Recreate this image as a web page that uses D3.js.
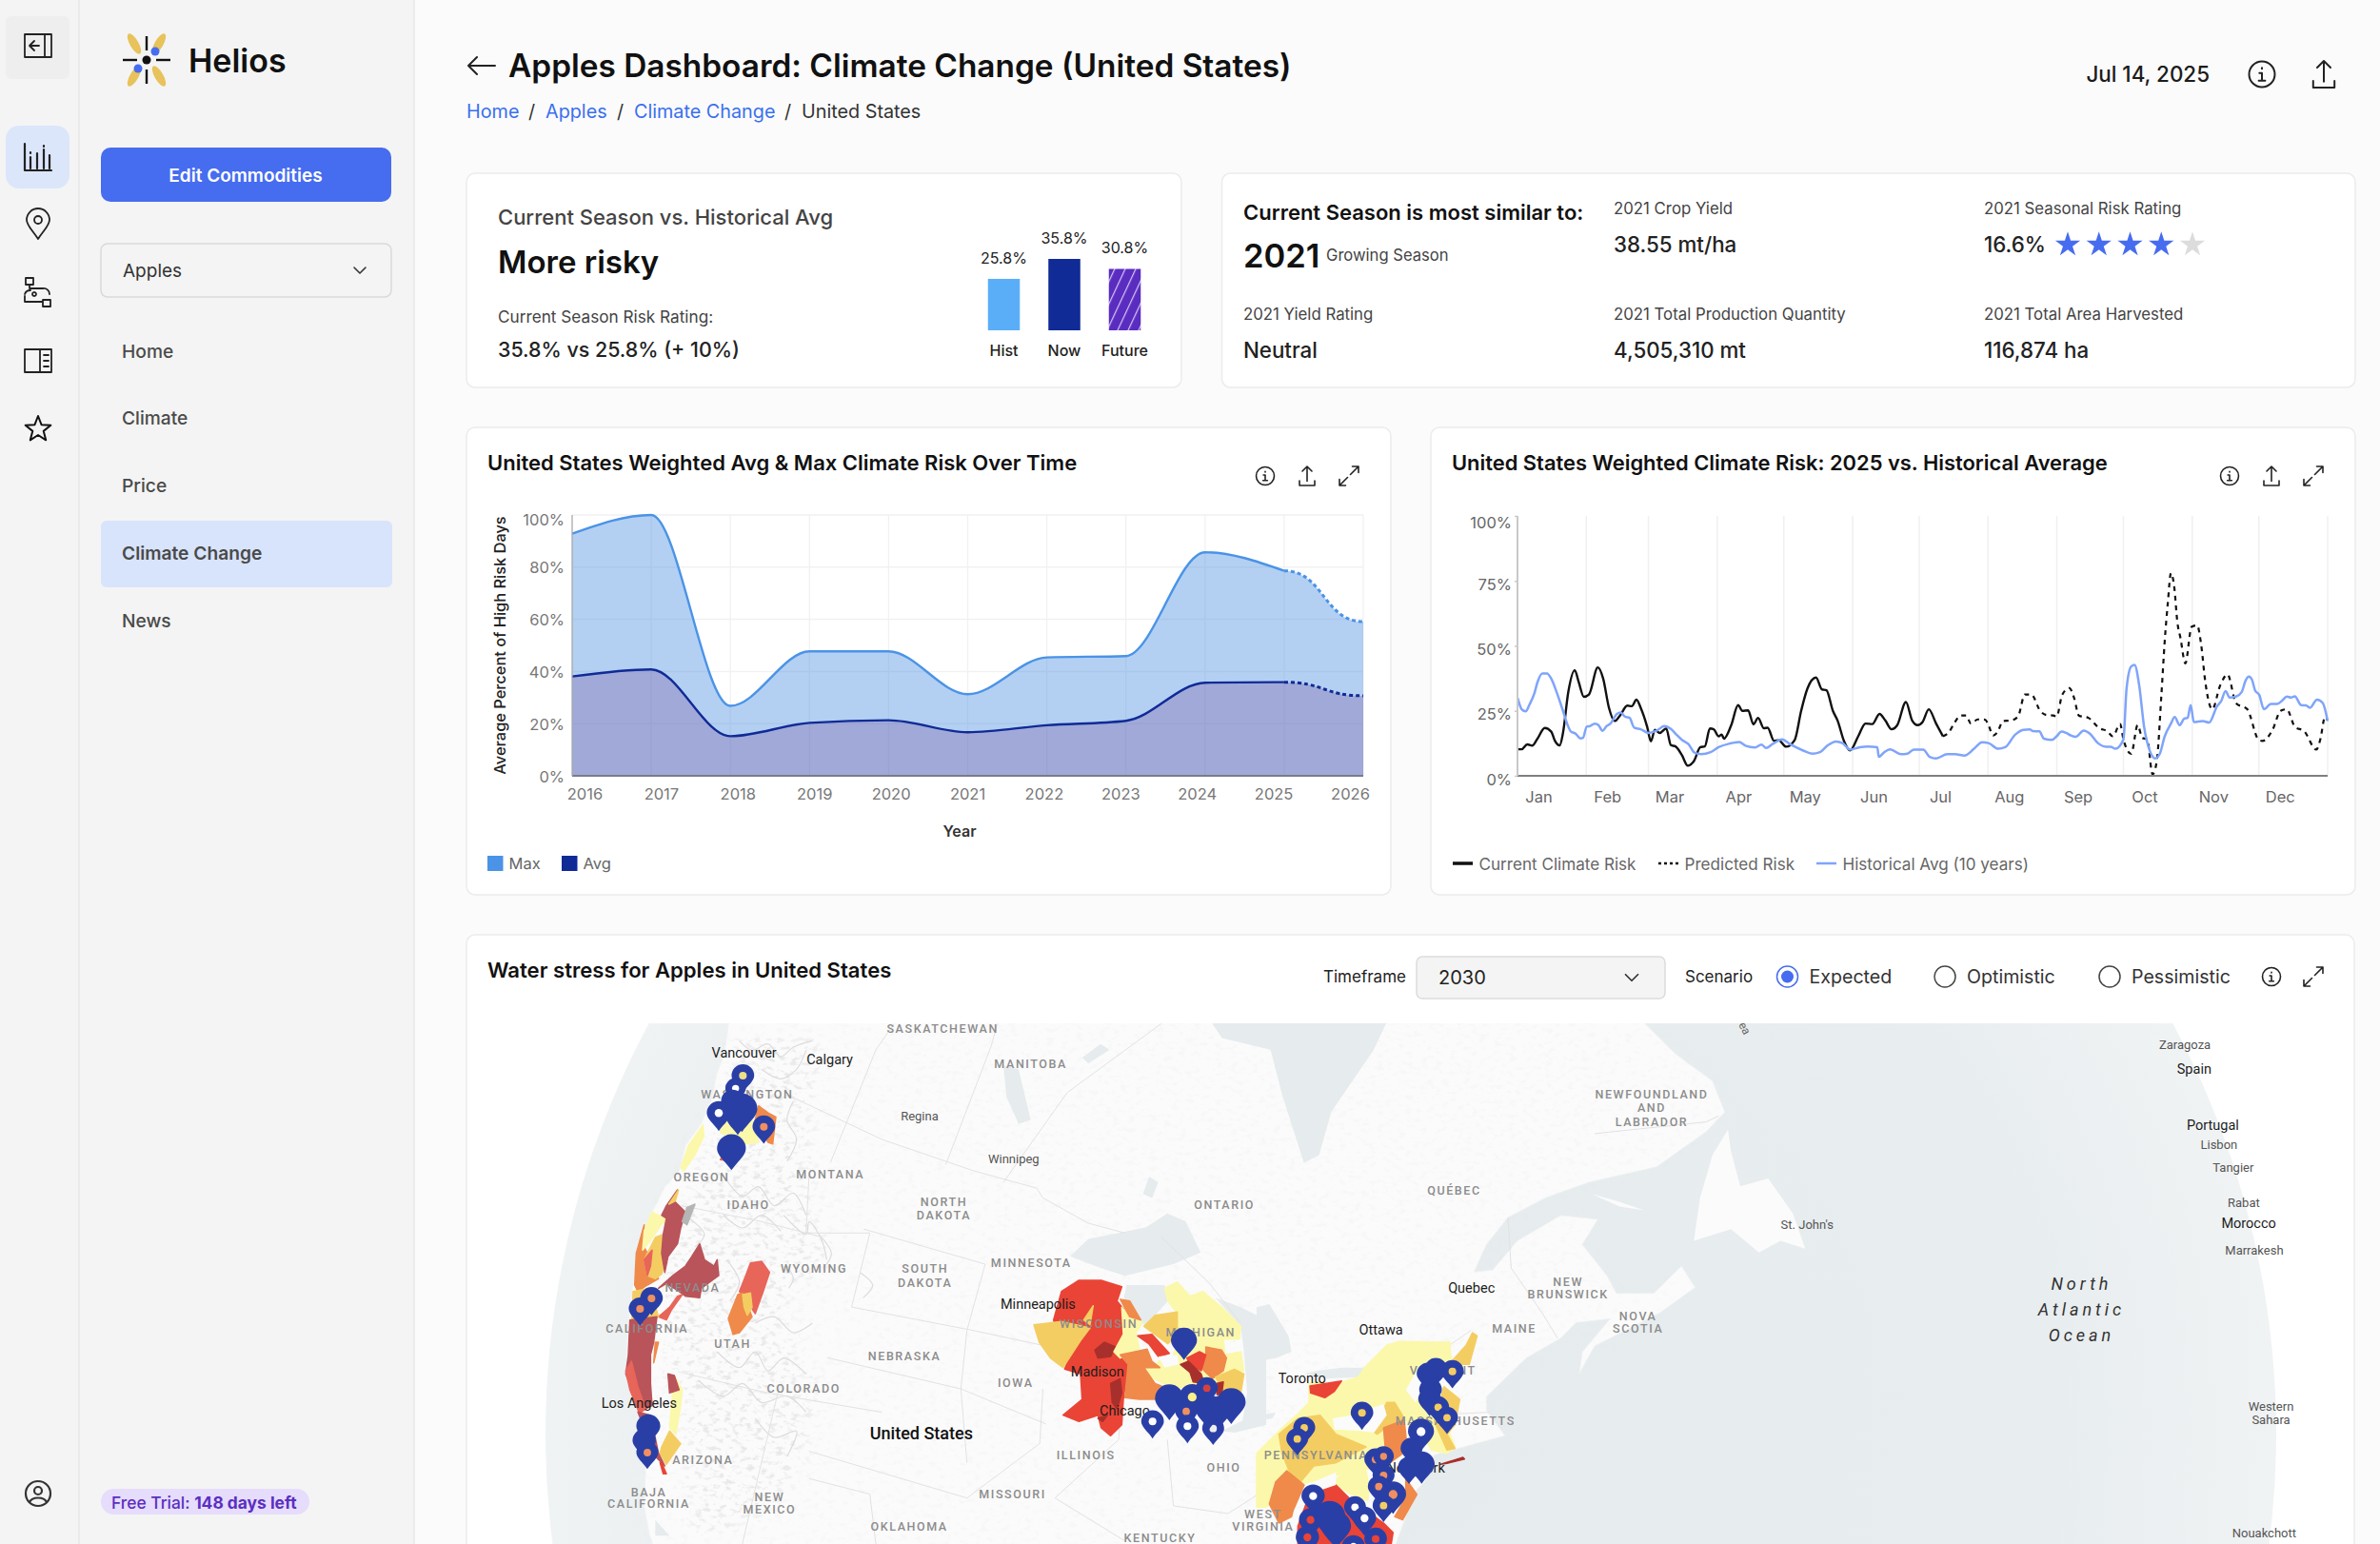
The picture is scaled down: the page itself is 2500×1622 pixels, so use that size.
<!DOCTYPE html>
<html>
<head>
<meta charset="utf-8">
<title>Helios - Apples Dashboard</title>
<script src="https://cdn.jsdelivr.net/npm/d3@7"></script>
<style>
  body { margin: 0; background: #fbfbfb; }
  svg { display: block; }
  text { font-family: Inter, "Noto Sans", sans-serif; dominant-baseline: central; }
  .map text { font-family: Roboto, sans-serif; }
</style>
</head>
<body>
<svg id="page" width="2500" height="1622"></svg>
<script>
// ---- chart values
const seasonLabels = ["Hist", "Now", "Future"];
const seasonRisk = [25.8, 35.8, 30.8];

const years = [2016, 2017, 2018, 2019, 2020, 2021, 2022, 2023, 2024, 2025, 2026];
const maxRisk = [92.8, 100, 26.8, 47.7, 47.7, 31.3, 45.4, 45.9, 85.7, 78.6, 59.1];
const avgRisk = [38.1, 40.8, 15.2, 20.3, 21.3, 16.7, 19.4, 21.1, 35.7, 35.9, 30.7];

const months = ["Jan", "Feb", "Mar", "Apr", "May", "Jun", "Jul", "Aug", "Sep", "Oct", "Nov", "Dec"];
const monthStarts = [0, 31, 59, 90, 120, 151, 181, 212, 243, 273, 304, 334, 365];

// [day of year, percent]
const currentRisk = [[0.1,10.2],[1.9,10.2],[4.4,12.1],[6.6,11.6],[9,14.3],[12.3,18.4],[15.2,17],[16.9,13.4],[19,11.7],[20.5,16.5],[22.9,32.3],[25.8,40.6],[27.6,36],[29.9,30.4],[32.2,31.3],[36.2,41.7],[38.6,37.4],[41.2,26.2],[43.8,21.1],[46.2,23.2],[49.5,27],[51.5,26.8],[53.6,29.3],[55.5,26.2],[58.4,18.9],[60.1,13.3],[61.9,17.7],[64.1,16.5],[67,18.2],[69.1,11.8],[71.2,11.3],[74.1,7.9],[76.7,3.9],[79.5,5.7],[82.4,11],[84.4,11.3],[86.7,18.2],[88.4,17.9],[90.6,15.2],[92,15.9],[93,14.3],[96.3,19.5],[99.4,27.2],[101.3,25],[103.9,25.2],[106.3,19.8],[108.4,22.3],[111,18.3],[112.7,18.5],[115.6,13.4],[117.7,13.7],[121,11.2],[124.9,13.8],[127.8,25],[130.6,33.5],[134.5,37.8],[137.1,33.3],[139.2,32.9],[142.1,25],[144.2,21.3],[147.1,13.4],[149.9,9.8],[153.5,15.2],[156.8,20.1],[159.9,19.9],[163.1,23.8],[165.7,21.3],[168.5,17.9],[171.1,19.5],[175,28.4],[177.8,21.3],[180.3,19.5],[182.5,20.7],[185.3,25.6],[188.6,20.1],[191.7,15.2]];
const predictedRisk = [[191.7,15.2],[194.3,16.7],[197.1,20.7],[199.7,23.2],[202.1,23.2],[204.3,20.1],[207.4,21.7],[210.7,21.6],[212.2,19.5],[214.3,15.5],[216,16.5],[218.9,21.1],[222.2,21.3],[225.5,22.8],[228.6,31.3],[231.5,31.3],[235.5,25],[237.9,23.5],[241.5,23.2],[242.9,22.8],[245.4,31.1],[248.6,33.8],[250.8,29.9],[252.9,23.2],[257.2,22.3],[262.2,18.3],[265.8,17.1],[268.2,15.2],[271.5,19.9],[273,14],[276.5,8.5],[279.4,19.5],[281.5,14.6],[283.7,14],[286.1,0.6],[288,5.5],[290.1,31.1],[291.6,51.8],[293,66.5],[294.4,78],[295.9,72.6],[297.3,59.1],[298.7,53],[300.9,43.3],[303.7,57.3],[306.2,57.9],[308,50.6],[309.9,36],[313,25.6],[316.6,34.8],[319.9,39],[323.7,28],[328.8,25.6],[333.8,14],[335.6,13.4],[340.2,17.7],[343.8,25],[346.6,25.6],[350.2,18.9],[354.5,17.1],[359.9,10.1],[361.7,14],[363.8,22.6],[365,21.3]];
const historicalAvg = [[0.1,29.9],[1.9,25.6],[3.7,24.8],[5.4,27.4],[7.6,31.7],[9,36],[11.2,39.4],[13.3,39.4],[15.2,37.4],[17.6,32.3],[20.5,25],[22.6,19.5],[24,17.1],[26.2,16.2],[28.3,14.4],[29.5,14.6],[31.2,18.9],[32.6,19.1],[34.8,20.1],[36.5,19.5],[38.3,17.3],[40.1,19.1],[41.9,20.1],[44.8,23.8],[46.5,24.4],[48.4,22.8],[50.5,22.3],[52.6,18.5],[55.5,17.9],[59.1,16.5],[62.7,17.4],[66.2,19.1],[69.1,18],[71.2,16.2],[74.1,13.8],[77,12.2],[79.8,8.9],[82.7,8.3],[87,9.1],[90.6,11],[95.6,12.4],[99.9,13],[102.7,11.6],[107,10.9],[109.9,12],[112,10.7],[114.9,12.2],[119.2,14],[122.7,12.2],[128.5,9.8],[132.8,8.5],[136.3,9.1],[139.9,11.8],[143.5,13.2],[146.4,12.6],[149.9,10.1],[154.2,11],[157.8,11.3],[162.1,11],[162.8,7.3],[165,8.9],[167.8,10.2],[172.8,8.3],[175.7,8.5],[178.5,10.1],[182.8,10.1],[185.7,7.3],[188.6,6.7],[193.6,8.3],[197.1,8.3],[201.4,7.8],[205.7,10.4],[209.3,12.9],[212.2,12.6],[216.5,10.4],[219.7,11],[224.3,15.9],[227.9,17.7],[230.8,17.9],[232.2,17.2],[235.1,17.1],[237.2,14.3],[240.8,13.8],[242.9,15.2],[245.1,17],[247.2,16.5],[249.4,15.5],[251.5,15],[255.1,17.4],[257.9,16.2],[261.5,12.6],[265.1,11.2],[267.2,11.2],[269.4,10.4],[273,14],[274.4,33.5],[276.5,42.1],[278,42.7],[280.1,34.8],[282.3,18.9],[285.1,9.1],[287.3,6.7],[289.4,8.5],[291.6,15.2],[294.4,20.1],[296.1,22.6],[298.3,19.5],[300.4,22],[301.9,22.3],[303.3,27.2],[304.7,20.7],[308.7,21.1],[311.6,20.5],[315.2,26.8],[317,28.7],[319,32.6],[320.9,30.1],[323.7,30.5],[326.3,32.3],[328,36.6],[329.5,38.2],[330.9,37],[332.3,32.9],[334.2,31.1],[336.3,25.6],[339.5,27.7],[342.3,27.7],[344.5,28.9],[346.6,30.5],[348.5,30.1],[350.2,30.6],[353.1,27.2],[355.2,27.1],[357.1,26.2],[360.2,29.3],[362.8,28],[365,21.1]];

// ---- text tiles
const navItems = ["Home", "Climate", "Price", "Climate Change", "News"];
const statRows = [
  ["2021 Crop Yield", "38.55 mt/ha", 1, 0],
  ["2021 Seasonal Risk Rating", "16.6%", 2, 0],
  ["2021 Yield Rating", "Neutral", 0, 1],
  ["2021 Total Production Quantity", "4,505,310 mt", 1, 1],
  ["2021 Total Area Harvested", "116,874 ha", 2, 1]
];
const ratingStars = [1, 1, 1, 1, 0];

// ---- map: no geodata is available, so shapes are traced in the units of five sheets of the map
const sheets = {
  wide: { x: d3.scaleLinear([0, 1568], [480, 1480]), y: d3.scaleLinear([0, 1568], [980, 1622]) },
  atl:  { x: d3.scaleLinear([0, 1568], [1480, 2500]), y: d3.scaleLinear([0, 1568], [980, 1622]) },
  west: { x: d3.scaleLinear([0, 1020], [620, 960]), y: d3.scaleLinear([0, 1560], [1090, 1610]) },
  mid:  { x: d3.scaleLinear([0, 780], [1070, 1330]), y: d3.scaleLinear([0, 876], [1330, 1622]) },
  east: { x: d3.scaleLinear([0, 780], [1320, 1580]), y: d3.scaleLinear([0, 876], [1330, 1622]) }
};
const coastParts = [
  ["wide", [[450,200]]],
  ["atl", [[360,200],[430,310],[490,380],[510,460],[480,510],[400,600],[290,640],[220,680],[160,730],[125,800],[105,870],[135,865],[175,790],[245,725],[305,735],[280,800],[320,880],[335,925],[395,925],[440,855],[462,910],[405,975],[300,1060],[275,1130],[280,1075],[325,990],[270,1000],[245,1040],[190,1090],[125,1190],[125,1225],[155,1290],[75,1325],[40,1340]]],
  ["east", [[530,680],[490,720],[470,790],[430,900]]],
  ["west", [[210,1640],[185,1560],[170,1480],[175,1330],[160,1250],[155,1190],[130,1120],[112,1060],[115,950],[125,850],[135,770],[150,680],[170,600],[200,540],[235,470],[280,420],[300,340],[350,270],[380,200],[400,110],[420,60],[430,0]]]
];
const islands = [
  ["atl", [[515,505],[490,570],[470,680],[460,790],[520,760],[565,820],[600,790],[640,810],[620,720],[580,630],[535,650],[520,560]]],
  ["atl", [[295,670],[340,690],[380,712],[340,702]]]
];
const lakes = [
  ["wide", [[1230,200],[1260,270],[1340,300],[1360,420],[1395,590],[1420,570],[1440,460],[1510,300],[1540,200]]],
  ["wide", [[1010,830],[1040,785],[1090,770],[1135,755],[1170,720],[1200,740],[1225,820],[1180,850],[1100,880],[1060,860]]],
  ["wide", [[900,340],[925,350],[945,480],[925,490],[905,420]]],
  ["wide", [[1140,625],[1155,640],[1145,680],[1130,670]]],
  ["wide", [[1030,320],[1060,285],[1075,300],[1040,335]]],
  ["mid", [[340,60],[460,60],[470,110],[400,190],[330,110]]],
  ["mid", [[620,100],[700,130],[780,170],[780,500],[700,520],[720,400],[710,270],[700,190]]],
  ["mid", [[640,520],[700,490],[780,460],[780,500],[680,525]]],
  ["east", [[0,130],[40,120],[100,220],[110,270],[60,290],[0,300]]],
  ["east", [[0,470],[60,462],[50,480],[0,490]]],
  ["east", [[150,340],[220,355],[320,350],[340,320],[270,320],[190,330]]],
  ["west", [[205,1520],[250,1570],[205,1570]]]
];
const borders = [
  ["wide", [[550,420],[700,530],[850,610],[955,655],[965,680],[1040,745],[1100,770]]],
  ["wide", [[720,233],[690,300],[615,590]]],
  ["wide", [[890,233],[880,290],[805,595]]],
  ["wide", [[1160,233],[1005,410],[900,640]]],
  ["wide", [[670,760],[870,850]]],
  ["wide", [[650,960],[850,1020]]],
  ["wide", [[850,1020],[1000,1070]]],
  ["wide", [[610,1090],[830,1170],[970,1260]]],
  ["wide", [[580,1330],[840,1450],[960,1310],[965,1170]]],
  ["wide", [[870,850],[840,1020],[830,1170],[840,1360]]],
  ["wide", [[580,620],[575,770],[680,770],[650,960]]],
  ["wide", [[370,700],[500,740],[600,780]]],
  ["wide", [[690,1568],[680,1440],[580,1400]]],
  ["wide", [[1100,1000],[1090,1300],[985,1450],[1100,1560]]],
  ["wide", [[1170,1300],[1180,1470],[1270,1490],[1340,1420]]],
  ["wide", [[375,1130],[510,1180],[700,1230]]],
  ["wide", [[530,1170],[470,1568]]],
  ["wide", [[1160,780],[1240,900],[1290,1000]]],
  ["atl", [[300,515],[480,485],[500,470]]],
  ["atl", [[160,730],[165,860],[215,975],[240,1040]]],
  ["atl", [[0,1130],[100,1020]]],
  ["atl", [[0,1240],[130,1230]]]
];
const rockies = [[470,0],[720,0],[700,150],[680,400],[720,600],[760,720],[620,800],[620,950],[720,1100],[680,1300],[600,1450],[420,1560],[330,1560],[300,1100],[230,1100],[230,700],[330,450],[430,250]];
const terrain = [
  [[470,10],[510,40],[560,20],[600,60],[640,30],[700,10]], [[540,100],[600,130],[650,100],[680,40]], [[640,200],[620,260],[650,320],[620,390]],
  [[430,450],[480,500],[530,470],[580,530],[640,490],[680,560]], [[610,560],[680,620],[690,580],[730,640],[745,700]], [[620,720],[640,760],[625,790]],
  [[400,990],[470,1040],[520,990],[560,1050],[610,1010],[680,1060]], [[340,1080],[420,1130],[480,1090],[540,1150],[620,1130],[680,1180]],
  [[520,1200],[580,1260],[650,1240],[620,1320]], [[430,700],[470,770],[440,830]], [[520,900],[580,880],[640,930],[700,900]], [[300,560],[360,620],[330,660]],
  [[720,620],[760,680],[740,720]], [[850,740],[890,780],[860,820]], [[420,560],[480,600],[540,560],[600,610]]
];

const stressColors = { high: "#ea4436", dark: "#a8302c", brown: "#b9545a", salmon: "#e8655a", orange: "#ef8a4b", amber: "#f4cd62", pale: "#fbf8ab", grey: "#b5b5b5" };
const stressAreas = [
  ["west", "pale", [[355,275],[358,310],[330,370],[295,420],[285,410],[310,340]]],
  ["west", "pale", [[410,270],[440,250],[510,260],[530,330],[490,335],[470,320],[410,300]]],
  ["west", "orange", [[530,215],[565,240],[585,250],[575,335],[560,330],[520,260]]],
  ["west", "salmon", [[410,385],[420,365],[470,325],[485,335],[450,390]]],
  ["west", "orange", [[170,590],[145,680],[140,780],[150,800],[180,780],[215,760],[190,700],[165,650]]],
  ["west", "pale", [[195,550],[170,610],[165,670],[190,640],[230,580],[240,600],[235,570]]],
  ["west", "amber", [[205,630],[230,620],[240,700],[225,745],[205,760],[180,750],[170,700],[190,660]]],
  ["west", "salmon", [[170,700],[195,670],[190,720],[180,750]]],
  ["west", "brown", [[240,530],[275,480],[265,515],[300,550],[285,600],[275,650],[245,690],[235,740],[225,680],[230,620],[240,570],[225,560]]],
  ["west", "amber", [[248,525],[278,480],[268,515]]],
  ["west", "grey", [[330,525],[305,590],[290,580],[305,535]]],
  ["west", "brown", [[215,790],[260,750],[300,720],[320,690],[345,650],[360,700],[390,720],[400,700],[405,750],[350,790],[345,820],[300,815],[280,800],[240,775]]],
  ["west", "salmon", [[290,810],[255,860],[240,890],[215,880],[250,850],[275,815]]],
  ["west", "salmon", [[505,710],[540,705],[565,740],[545,800],[520,870],[480,810],[470,800],[490,750]]],
  ["west", "orange", [[465,810],[480,805],[510,880],[470,930],[450,935],[435,885]]],
  ["west", "amber", [[480,810],[505,805],[510,850],[495,875],[485,850]]],
  ["west", "amber", [[135,800],[190,790],[215,880],[130,930]]],
  ["west", "brown", [[125,890],[210,880],[200,960],[190,1000],[190,1090],[195,1160],[155,1180],[130,1110],[112,1060],[120,1000]]],
  ["west", "salmon", [[112,1050],[130,1020],[150,1100],[175,1170],[155,1185],[125,1110]]],
  ["west", "orange", [[215,960],[200,1025],[205,960]]],
  ["west", "pale", [[265,1065],[290,1110],[285,1160],[270,1250],[250,1230],[255,1170]]],
  ["west", "brown", [[245,1060],[265,1065],[280,1110],[250,1120]]],
  ["west", "amber", [[250,1240],[285,1280],[240,1345],[220,1310],[225,1290]]],
  ["west", "brown", [[150,1180],[190,1190],[215,1310],[235,1350],[205,1320]]],
  ["west", "high", [[225,1340],[240,1375],[230,1375],[220,1340]]],

  ["mid", "high", [[110,170],[135,80],[190,45],[260,45],[325,65],[310,110],[350,160],[330,215],[300,270],[345,310],[330,420],[325,500],[290,535],[260,510],[250,470],[190,490],[140,470],[200,420],[195,340],[145,325],[175,250],[120,200]]],
  ["mid", "amber", [[48,185],[135,175],[225,195],[195,235],[140,320],[100,290],[65,240]]],
  ["mid", "amber", [[205,170],[235,125],[225,185]]],
  ["mid", "dark", [[240,265],[270,240],[305,255],[290,285],[250,290]]],
  ["mid", "dark", [[290,370],[320,355],[325,400],[310,450],[295,430]]],
  ["mid", "dark", [[250,480],[280,470],[265,490]]],
  ["mid", "pale", [[325,130],[350,160],[390,180],[370,210],[380,260],[320,290],[300,270],[330,215]]],
  ["mid", "orange", [[320,105],[350,110],[385,170],[350,160]]],
  ["mid", "pale", [[460,70],[500,50],[540,95],[580,80],[640,130],[670,160],[700,190],[695,230],[645,230],[650,280],[700,270],[710,330],[650,330],[620,370],[560,380],[480,385],[420,350],[395,320],[430,320],[440,300],[480,300],[500,245],[470,240],[500,210],[500,150],[470,110]]],
  ["mid", "orange", [[320,280],[405,262],[420,300],[445,320],[395,320],[430,370],[480,390],[440,420],[380,420],[335,415],[345,310]]],
  ["mid", "high", [[375,220],[420,215],[475,275],[440,285],[410,245]]],
  ["mid", "amber", [[395,190],[430,155],[500,145],[500,210],[470,245]]],
  ["mid", "orange", [[590,255],[640,265],[655,290],[645,330],[610,355],[575,320],[590,285]]],
  ["mid", "high", [[530,290],[570,270],[590,280],[575,330],[540,310]]],
  ["mid", "dark", [[510,310],[535,300],[575,340],[585,370],[550,365],[540,335]]],
  ["mid", "amber", [[620,350],[680,325],[710,340],[700,400],[650,400]]],
  ["mid", "dark", [[625,370],[645,365],[640,405],[625,405]]],

  ["east", "pale", [[0,590],[60,530],[125,470],[165,430],[165,370],[215,365],[225,380],[320,350],[340,320],[410,250],[450,238],[610,240],[610,270],[615,300],[580,340],[560,370],[580,420],[590,480],[625,570],[600,590],[550,580],[540,560],[500,560],[470,480],[400,640],[345,640],[250,660],[130,690],[30,760],[0,760]]],
  ["east", "pale", [[250,670],[340,620],[355,700],[350,740],[300,720],[250,690]]],
  ["east", "high", [[168,378],[268,362],[245,395],[215,415],[170,400]]],
  ["east", "amber", [[70,530],[130,480],[200,470],[250,530],[345,570],[250,620],[180,630],[130,690],[100,640],[80,590]]],
  ["east", "amber", [[410,430],[435,430],[465,480],[400,515],[380,530],[365,520]]],
  ["east", "orange", [[400,510],[465,485],[475,580],[420,620],[405,570]]],
  ["east", "orange", [[40,750],[60,680],[95,645],[150,690],[115,770],[110,790],[70,810]]],
  ["east", "amber", [[680,210],[695,220],[670,310],[620,310],[615,300],[660,250]]],
  ["east", "amber", [[590,380],[640,420],[625,500],[600,530],[625,575],[600,580],[560,490]]],
  ["east", "orange", [[470,670],[505,720],[460,800],[435,790],[470,730]]],
  ["east", "high", [[170,710],[240,680],[290,730],[400,810],[430,840],[420,900],[130,900],[130,820]]],
  ["east", "dark", [[580,625],[650,603],[655,608],[600,622]]]
];
// land that shows through the stress layers
const stressHoles = [
  ["mid", [[440,285],[500,280],[505,310],[460,320]]],
  ["east", [[240,480],[300,470],[400,435],[410,470],[370,525],[330,520],[245,515]]],
  ["east", [[470,390],[510,320],[530,380],[500,430]]],
  ["east", [[180,680],[250,650],[250,690],[190,710]]]
];

// [sheet, centre x, centre y, radius, hole colour]
const farmPins = [
  ["west",481,120,33,"#eede88"],["west",458,160,30,"#fff"],["west",448,200,33,null],["west",405,238,35,"#fff"],["west",478,225,45,null],["west",465,255,32,null],["west",547,281,33,"#f09060"],["west",445,350,42,null],
  ["west",193,822,33,"#f09060"],["west",157,855,33,"#f09060"],["west",183,1225,35,null],["west",170,1270,34,null],["west",180,1308,32,"#f09060"],
  ["mid",521,235,38,null],["mid",422,490,33,"#fff"],["mid",475,418,42,null],["mid",547,413,38,"#fbf08a"],["mid",593,385,32,"#d84040"],["mid",528,458,32,"#f09060"],["mid",532,505,33,"#fff"],["mid",613,512,32,"#eee"],["mid",600,450,40,null],["mid",640,445,35,null],["mid",670,430,42,null],
  ["east",150,510,32,"#f4cd62"],["east",128,545,32,"#f4cd62"],["east",332,463,33,"#f4cd62"],["east",565,325,33,null],["east",540,340,33,null],["east",548,390,33,null],["east",545,420,33,null],["east",572,445,32,"#f4cd62"],["east",600,478,32,"#f4cd62"],["east",617,332,33,"#f4cd62"],
  ["east",518,522,38,"#fff"],["east",488,575,32,null],["east",480,635,32,null],["east",520,625,38,null],["east",375,610,33,"#f09060"],["east",400,600,30,"#f09060"],["east",400,660,32,"#f09060"],["east",385,695,32,"#f09060"],["east",430,720,38,"#f09060"],["east",400,755,32,"#f4cd62"],
  ["east",178,725,34,"#fff"],["east",170,800,34,"#ea4436"],["east",230,790,46,null],["east",310,760,32,"#fff"],["east",340,795,34,"#fff"],["east",160,855,34,"#ea4436"],["east",375,860,33,"#ea4436"],["east",305,885,34,"#fff"],["east",250,820,44,null]
];

// [sheet, text, x, y, kind] kinds: region, city, small, country
const mapLabels = [
  ["wide","SASKATCHEWAN",800,245,"region"],["wide","MANITOBA",945,337,"region"],["wide","Regina",762,469,"small"],["wide","Winnipeg",917,579,"small"],["wide","ONTARIO",1264,697,"region"],
  ["wide","NORTH",802,689,"region"],["wide","DAKOTA",802,723,"region"],["wide","SOUTH",771,862,"region"],["wide","DAKOTA",771,898,"region"],["wide","MINNESOTA",946,847,"region"],
  ["wide","WYOMING",588,861,"region"],["wide","MONTANA",615,620,"region"],["wide","IDAHO",480,697,"region"],["wide","OREGON",403,626,"region"],["wide","WASHINGTON",478,413,"region"],
  ["wide","NEVADA",388,910,"region"],["wide","CALIFORNIA",313,1015,"region"],["wide","UTAH",454,1053,"region"],["wide","COLORADO",571,1169,"region"],["wide","NEBRASKA",737,1085,"region"],["wide","IOWA",920,1154,"region"],
  ["wide","WISCONSIN",1057,1003,"region"],["wide","MICHIGAN",1225,1025,"region"],["wide","ARIZONA",405,1353,"region"],["wide","BAJA",316,1435,"region"],["wide","CALIFORNIA",316,1464,"region"],
  ["wide","NEW",515,1447,"region"],["wide","MEXICO",515,1480,"region"],["wide","OKLAHOMA",745,1523,"region"],["wide","MISSOURI",915,1440,"region"],["wide","ILLINOIS",1036,1339,"region"],["wide","OHIO",1263,1371,"region"],["wide","KENTUCKY",1158,1552,"region"],
  ["wide","WEST",1328,1491,"region"],["wide","VIRGINIA",1328,1522,"region"],["wide","PENNSYLVANIA",1415,1340,"region"],
  ["atl","NEWFOUNDLAND",392,413,"region"],["atl","AND",392,449,"region"],["atl","LABRADOR",392,485,"region"],["atl","QUÉBEC",73,660,"region"],["atl","NEW",257,896,"region"],["atl","BRUNSWICK",257,928,"region"],
  ["atl","NOVA",370,984,"region"],["atl","SCOTIA",370,1016,"region"],["atl","MAINE",170,1014,"region"],["atl","MASSACHUSETTS",75,1251,"region"],["atl","VERMONT",55,1122,"region"],
  ["wide","Vancouver",473,309,"city"],["wide","Calgary",614,327,"city"],["wide","Minneapolis",957,953,"city"],["wide","Madison",1055,1126,"city"],["wide","Chicago",1100,1228,"city"],["wide","Los Angeles",300,1208,"city"],
  ["wide","United States",765,1283,"country"],["wide","Toronto",1392,1145,"city"],["wide","Ottawa",1522,1019,"city"],["atl","Quebec",101,913,"city"],["atl","New York",11,1375,"city"],
  ["atl","Zaragoza",1253,287,"small"],["atl","Spain",1268,350,"city"],["atl","Portugal",1298,495,"city"],["atl","Lisbon",1308,543,"small"],["atl","Tangier",1331,603,"small"],["atl","Rabat",1348,693,"small"],["atl","Morocco",1356,745,"city"],["atl","Marrakesh",1365,815,"small"],
  ["atl","St. John's",643,748,"small"],["atl","Western",1392,1214,"small"],["atl","Sahara",1392,1250,"small"],["atl","Nouakchott",1381,1540,"small"]
];
const oceanLabels = [["North", 900], ["Atlantic", 965], ["Ocean", 1031]];

const svg = d3.select("#page");
const defs = svg.append("defs");

function label(parent, str, x, y, opt = {}) {
  return parent.append("text").attr("x", x).attr("y", y).text(str)
    .attr("font-size", opt.size || 17)
    .attr("font-weight", opt.weight || 400)
    .attr("fill", opt.fill || "#1c1c1c")
    .attr("text-anchor", opt.anchor || "start")
    .attr("letter-spacing", opt.spacing || null);
}
function card(x, y, w, h) {
  svg.append("rect").attr("x", x).attr("y", y).attr("width", w).attr("height", h).attr("rx", 9)
    .attr("fill", "#fff").attr("stroke", "#ececec").attr("stroke-width", 1.5);
}
function strokeIcon(cx, cy, d, color = "#222", width = 1.8) {
  return svg.append("path").attr("transform", `translate(${cx},${cy})`).attr("d", d)
    .attr("fill", "none").attr("stroke", color).attr("stroke-width", width)
    .attr("stroke-linecap", "round").attr("stroke-linejoin", "round");
}
const infoPath = r => `M${r},0A${r},${r} 0 1 1 ${-r},0A${r},${r} 0 1 1 ${r},0M-${r*.25},${r*.5}H${r*.25}M0,${r*.5}V-${r*.1}H-${r*.2}M0,-${r*.5}V-${r*.42}`;
const uploadPath = s => `M-${s*.8},${s*.5}V${s}H${s*.8}V${s*.5}M0,${s*.55}V-${s}M-${s*.5},-${s*.5}L0,-${s}L${s*.5},-${s*.5}`;
const expandPath = s => `M${s*.15},-${s*.15}L${s},-${s}M${s*.35},-${s}H${s}V-${s*.35}M-${s*.15},${s*.15}L-${s},${s}M-${s*.35},${s}H-${s}V${s*.35}`;
const chevronPath = s => `M-${s},-${s*.5}L0,${s*.5}L${s},-${s*.5}`;

// ---- rails
svg.append("rect").attr("width", 435).attr("height", 1622).attr("fill", "#f4f4f4");
[83, 435].forEach(x => svg.append("line").attr("x1", x).attr("x2", x).attr("y1", 0).attr("y2", 1622).attr("stroke", "#e8e8e8").attr("stroke-width", 1.5));
svg.append("rect").attr("x", 6).attr("y", 17).attr("width", 67).attr("height", 66).attr("rx", 6).attr("fill", "#eeeeee");
svg.append("rect").attr("x", 6).attr("y", 132).attr("width", 67).attr("height", 66).attr("rx", 14).attr("fill", "#dbe6fb");
strokeIcon(40, 48, "M-14,-12H14V12H-14ZM7,-12V12M1,0H-9M-4,-5L-9,0L-4,5");
strokeIcon(40, 165, "M-14,-14V14H14M-8,12V0M-1,12V-4M6,12V-8M12,12V-2M-8,-5V-4M6,-12V-11", "#222", 2.2);
strokeIcon(40, 236, "M0,15C-5,7 -12,1 -12,-5A12,12 0 0 1 12,-5C12,1 5,7 0,15ZM4,-5A4,4 0 1 1 -4,-5A4,4 0 1 1 4,-5");
strokeIcon(40, 307, "M-13,-15H-5V-8H-13ZM5,8H13V15H5ZM-9,-8V-4H5A6,6 0 0 1 12,2M-14,2A6,6 0 0 1 -8,-2M-14,4V10H4M-2,2A2,2 0 1 1 -2,1.9");
strokeIcon(40, 379, "M-14,-12H14V12H-14ZM2,-12V12M6,-6H11M6,0H11M6,6H11");
strokeIcon(40, 451, d3.range(10).map(i => {
  const r = i % 2 ? 6 : 14, a = -Math.PI / 2 + i * Math.PI / 5;
  return `${i ? "L" : "M"}${r * Math.cos(a)},${r * Math.sin(a)}`;
}).join("") + "Z", "#111", 2);
strokeIcon(40, 1569, "M13,0A13,13 0 1 1 -13,0A13,13 0 1 1 13,0M4,-3A4,4 0 1 1 -4,-3A4,4 0 1 1 4,-3M-9,9C-6,3 6,3 9,9", "#333", 2.2);

// logo
const logo = svg.append("g").attr("transform", "translate(154,63)");
[[-1, -1], [1, -1], [-1, 1], [1, 1]].forEach(([sx, sy]) => {
  logo.append("ellipse").attr("cx", sx * 13).attr("cy", sy * 17).attr("rx", 4.5).attr("ry", 12)
    .attr("transform", `rotate(${sx * sy * -30} ${sx * 13} ${sy * 17})`).attr("fill", "#e8c25a");
});
logo.append("circle").attr("cx", 9).attr("cy", -9).attr("r", 4.5).attr("fill", "#466cf0");
logo.append("circle").attr("cx", -9).attr("cy", 9).attr("r", 4.5).attr("fill", "#466cf0");
logo.append("circle").attr("r", 4.5).attr("fill", "#111");
["M0,-25V-10", "M0,10V25", "M-25,0H-10", "M10,0H25"].forEach(d => logo.append("path").attr("d", d).attr("stroke", "#111").attr("stroke-width", 2.4));
label(svg, "Helios", 198, 63, { size: 34, weight: 600, fill: "#111" });

svg.append("rect").attr("x", 106).attr("y", 155).attr("width", 305).attr("height", 57).attr("rx", 10).attr("fill", "#466cf0");
label(svg, "Edit Commodities", 258, 184, { size: 19, weight: 600, fill: "#fff", anchor: "middle" });
svg.append("rect").attr("x", 106).attr("y", 256).attr("width", 305).attr("height", 56).attr("rx", 7).attr("fill", "#f4f4f4").attr("stroke", "#d9d9d9").attr("stroke-width", 1.5);
label(svg, "Apples", 129, 284, { size: 19, fill: "#333" });
strokeIcon(378, 284, chevronPath(6), "#333", 1.6);
svg.append("rect").attr("x", 106).attr("y", 547).attr("width", 306).attr("height", 70).attr("rx", 6).attr("fill", "#d8e4fb");
const navY = d3.scalePoint(navItems, [368.5, 652]);
navItems.forEach(item => label(svg, item, 128, navY(item), { size: 19.2, weight: item === "Climate Change" ? 600 : 500, fill: "#4a4a4a" }));
svg.append("rect").attr("x", 106).attr("y", 1564).attr("width", 219).attr("height", 27).attr("rx", 13.5).attr("fill", "#e6dcfb");
const trial = label(svg, "Free Trial: ", 117, 1578, { size: 17.4, weight: 500, fill: "#5a2fc2" });
trial.append("tspan").attr("font-weight", 700).text("148 days left");

// ---- page header
strokeIcon(506, 69, "M14,0H-14M-5,-9L-14,0L-5,9", "#222", 2);
label(svg, "Apples Dashboard: Climate Change (United States)", 534, 69, { size: 33.4, weight: 600, fill: "#111" });
[["Home", 490, "#3a6ff0"], ["/", 555, "#333"], ["Apples", 573, "#3a6ff0"], ["/", 648, "#333"], ["Climate Change", 666, "#3a6ff0"], ["/", 824, "#333"], ["United States", 842, "#333"]]
  .forEach(([t, x, c]) => label(svg, t, x, 117, { size: 19.8, fill: c }));
label(svg, "Jul 14, 2025", 2321, 77, { size: 22.4, anchor: "end", weight: 500 });
strokeIcon(2376, 78, infoPath(13.5), "#222", 2);
strokeIcon(2441, 78, uploadPath(14), "#222", 2);

// ---- season card
card(490, 182, 751, 225);
label(svg, "Current Season vs. Historical Avg", 523, 228, { size: 22, weight: 500, fill: "#444" });
label(svg, "More risky", 523, 275, { size: 33, weight: 600, fill: "#111" });
label(svg, "Current Season Risk Rating:", 523, 332, { size: 17.2, fill: "#444" });
label(svg, "35.8% vs 25.8% (+ 10%)", 523, 367, { size: 21.4, weight: 500, fill: "#222" });

defs.append("pattern").attr("id", "futureHatch").attr("width", 10).attr("height", 12)
  .attr("patternUnits", "userSpaceOnUse").attr("patternTransform", "rotate(25)")
  .call(p => {
    p.append("rect").attr("width", 10).attr("height", 12).attr("fill", "#5a2cc0");
    p.append("rect").attr("width", 1.2).attr("height", 12).attr("fill", "#d5c7f3");
  });
const seasonY = d3.scaleLinear([0, 35.8], [347, 272]);
const seasonFill = { Hist: "#5aaef8", Now: "#102a96", Future: "url(#futureHatch)" };
const seasonCenters = d3.scalePoint(seasonLabels, [1054.5, 1181.5]);
seasonLabels.forEach((name, i) => {
  const w = 33.5, cx = seasonCenters(name);
  svg.append("rect").attr("x", cx - w / 2).attr("width", w).attr("y", seasonY(seasonRisk[i]))
    .attr("height", seasonY(0) - seasonY(seasonRisk[i])).attr("fill", seasonFill[name]);
  label(svg, seasonRisk[i] + "%", cx, seasonY(seasonRisk[i]) - 22, { size: 16, anchor: "middle", fill: "#222" });
  label(svg, name, cx, 368, { size: 16, weight: 500, anchor: "middle", fill: "#222" });
});

// ---- similar season card
card(1283.5, 182, 1190.5, 225);
label(svg, "Current Season is most similar to:", 1306, 223, { size: 22, weight: 600, fill: "#111" });
label(svg, "2021", 1306, 268, { size: 34.5, weight: 600, fill: "#111" });
label(svg, "Growing Season", 1393, 268, { size: 16.6, fill: "#444" });
const statX = [1306, 1695, 2084], statY = [219, 330], statGap = 37.5;
statRows.forEach(([name, value, col, row]) => {
  label(svg, name, statX[col], statY[row], { size: 16.8, fill: "#444" });
  label(svg, value, statX[col], statY[row] + statGap, { size: 22.3, weight: 500, fill: "#222" });
});
const starX = d3.scalePoint(d3.range(ratingStars.length), [2172, 2303]);
ratingStars.forEach((on, i) => svg.append("path").attr("d", d3.symbol(d3.symbolStar, 215))
  .attr("transform", `translate(${starX(i)},257)`).attr("fill", on ? "#466cf0" : "#dcdcdc"));

function chartIcons(x0, y) {
  strokeIcon(x0, y, infoPath(9.5), "#222", 1.6);
  strokeIcon(x0 + 44, y, uploadPath(10), "#222", 1.6);
  strokeIcon(x0 + 88, y, expandPath(10), "#222", 1.6);
}

// ---- avg & max over time
card(490, 449, 971, 491);
label(svg, "United States Weighted Avg & Max Climate Risk Over Time", 512, 486, { size: 22, weight: 600, fill: "#111" });
chartIcons(1329, 500);

const areaX = d3.scalePoint(years, [601, 1432]);
const areaY = d3.scaleLinear([0, 100], [815, 541]);
const areaG = svg.append("g");
areaG.append("g").selectAll("line").data(years).join("line")
  .attr("x1", areaX).attr("x2", areaX).attr("y1", 541).attr("y2", 815).attr("stroke", "#f1f1f3").attr("stroke-width", 1.3);
areaG.append("g").selectAll("line").data([20, 40, 60, 80, 100]).join("line")
  .attr("x1", 601).attr("x2", 1432).attr("y1", areaY).attr("y2", areaY).attr("stroke", "#f1f1f3").attr("stroke-width", 1.5);

// the last year is a separate forecast segment with its own curve, so it leaves 2025 flat
const areaSeries = [
  { values: maxRisk, fill: "#4a90e2", opacity: .42, line: "#4a93e6" },
  { values: avgRisk, fill: "#74519a", opacity: .3, line: "#102a96" }
];
const pathX = d => areaX(d[0]), pathY = d => areaY(d[1]);
areaSeries.forEach(s => {
  const points = d3.zip(years, s.values);
  [[points.slice(0, 10), d3.curveMonotoneX, null, 2.4], [points.slice(9), d3.curveBumpX, "4 3", 3]].forEach(([part, curve, dash, w]) => {
    areaG.append("path").attr("d", d3.area().x(pathX).y0(areaY(0)).y1(pathY).curve(curve)(part))
      .attr("fill", s.fill).attr("fill-opacity", s.opacity);
    areaG.append("path").attr("d", d3.line().x(pathX).y(pathY).curve(curve)(part))
      .attr("fill", "none").attr("stroke", s.line).attr("stroke-width", w).attr("stroke-dasharray", dash);
  });
});
areaG.append("line").attr("x1", 601).attr("x2", 1432).attr("y1", 815).attr("y2", 815).attr("stroke", "#7a7a8c").attr("stroke-width", 2);
areaG.append("line").attr("x1", 601).attr("x2", 601).attr("y1", 541).attr("y2", 815).attr("stroke", "#a8a8a8").attr("stroke-width", 1.2);

const areaAxisY = areaG.append("g").attr("transform", "translate(601,0)")
  .call(d3.axisLeft(areaY).tickValues([0, 20, 40, 60, 80, 100]).tickFormat(d => d + "%").tickSize(0).tickPadding(8));
areaAxisY.select(".domain").remove();
areaAxisY.selectAll("text").attr("font-size", 16.5).attr("fill", "#777").attr("dy", d => d === 100 ? 4 : 0);
areaAxisY.attr("font-family", null);
// year labels are evenly spread between the first and the last, not under their grid lines
const yearLabelX = d3.scalePoint(years, [614, 1418]);
const areaAxisX = areaG.append("g").attr("transform", "translate(0,834)")
  .call(d3.axisBottom(yearLabelX).tickSize(0).tickPadding(0).tickFormat(d3.format("d")));
areaAxisX.select(".domain").remove();
areaAxisX.selectAll("text").attr("font-size", 16.5).attr("fill", "#777").attr("dy", 0);
areaAxisX.attr("font-family", null);
label(svg, "Average Percent of High Risk Days", 0, 0, { size: 16.4, weight: 500, fill: "#222", anchor: "middle" })
  .attr("transform", "translate(525,678) rotate(-90)");
label(svg, "Year", 1008, 873, { size: 16, weight: 600, anchor: "middle", fill: "#333" });
[["Max", 512, "#4a93e6"], ["Avg", 590, "#102a96"]].forEach(([t, x, c]) => {
  svg.append("rect").attr("x", x).attr("y", 899).attr("width", 16.5).attr("height", 16).attr("fill", c);
  label(svg, t, x + 22.5, 907, { size: 16.5, fill: "#666" });
});

// ---- 2025 vs historical
card(1503, 449, 971, 491);
label(svg, "United States Weighted Climate Risk: 2025 vs. Historical Average", 1525, 486, { size: 21.9, weight: 600, fill: "#111" });
chartIcons(2342, 500);

const dayX = d3.scaleLinear([0, 365], [1594, 2445]);
const pctY = d3.scaleLinear([0, 100], [815, 542]);
const dayG = svg.append("g");
dayG.append("g").selectAll("line").data(monthStarts.slice(1)).join("line")
  .attr("x1", dayX).attr("x2", dayX).attr("y1", 542).attr("y2", 815).attr("stroke", "#f0f0f0").attr("stroke-width", 1.5);
const dayLine = d3.line().x(d => dayX(d[0])).y(d => pctY(d[1])).curve(d3.curveMonotoneX);
dayG.append("path").attr("d", dayLine(predictedRisk)).attr("fill", "none").attr("stroke", "#111").attr("stroke-width", 2.2).attr("stroke-dasharray", "5 5");
dayG.append("path").attr("d", dayLine(currentRisk)).attr("fill", "none").attr("stroke", "#111").attr("stroke-width", 2.4);
dayG.append("path").attr("d", dayLine(historicalAvg)).attr("fill", "none").attr("stroke", "#7fa4fb").attr("stroke-width", 2.5);
dayG.append("line").attr("x1", 1594).attr("x2", 2445).attr("y1", 815).attr("y2", 815).attr("stroke", "#808080").attr("stroke-width", 2);
dayG.append("line").attr("x1", 1594).attr("x2", 1594).attr("y1", 542).attr("y2", 815).attr("stroke", "#c9c9c9").attr("stroke-width", 2);
const dayAxisY = dayG.append("g").attr("transform", "translate(1594,0)")
  .call(d3.axisLeft(pctY).tickValues([0, 25, 50, 75, 100]).tickFormat(d => d + "%").tickSize(3).tickPadding(3));
dayAxisY.select(".domain").remove();
dayAxisY.selectAll("line").attr("stroke", "#c9c9c9").attr("stroke-width", 1.5);
dayAxisY.selectAll("text").attr("font-size", 16.5).attr("fill", "#666").attr("dy", d => d === 100 ? 6 : 3);
dayAxisY.attr("font-family", null);
const monthCenter = d3.scaleOrdinal(months, months.map((m, i) => dayX(monthStarts[i]) + 22));
const dayAxisX = dayG.append("g").attr("transform", "translate(0,837)")
  .call(d3.axisBottom(monthCenter).tickSize(0).tickPadding(0));
dayAxisX.select(".domain").remove();
dayAxisX.selectAll("text").attr("font-size", 16.5).attr("fill", "#666").attr("dy", 0);
dayAxisX.attr("font-family", null);
[["Current Climate Risk", 1526, "#111", null, 3.5], ["Predicted Risk", 1742, "#111", "3 3", 2.5], ["Historical Avg (10 years)", 1908, "#7fa4fb", null, 2.5]].forEach(([t, x, c, dash, w]) => {
  svg.append("line").attr("x1", x).attr("x2", x + 21).attr("y1", 907).attr("y2", 907).attr("stroke", c).attr("stroke-width", w).attr("stroke-dasharray", dash);
  label(svg, t, x + 27.5, 907, { size: 17.1, fill: "#666" });
});

// ---- map card
card(490, 982, 1983, 700);
label(svg, "Water stress for Apples in United States", 512, 1019, { size: 22.1, weight: 600, fill: "#111" });
label(svg, "Timeframe", 1390, 1026, { size: 17, fill: "#222" });
svg.append("rect").attr("x", 1488).attr("y", 1005).attr("width", 261).attr("height", 44).attr("rx", 6).attr("fill", "#f4f4f4").attr("stroke", "#dcdcdc").attr("stroke-width", 1.5);
label(svg, "2030", 1511, 1027, { size: 20, fill: "#222" });
strokeIcon(1714, 1027, chevronPath(6.5), "#333", 1.7);
label(svg, "Scenario", 1770, 1026, { size: 17, fill: "#222" });
[["Expected", 1877.5, true], ["Optimistic", 2043, false], ["Pessimistic", 2216, false]].forEach(([t, x, on]) => {
  svg.append("circle").attr("cx", x).attr("cy", 1026).attr("r", 11).attr("fill", "#fff").attr("stroke", on ? "#466cf0" : "#444").attr("stroke-width", 1.5);
  if (on) svg.append("circle").attr("cx", x).attr("cy", 1026).attr("r", 6.5).attr("fill", "#466cf0");
  label(svg, t, x + 23, 1026, { size: 19.6, fill: "#333" });
});
strokeIcon(2386, 1026, infoPath(9.5), "#222", 1.6);
strokeIcon(2430, 1026, expandPath(10), "#222", 1.6);

const put = (sheet, p) => [sheets[sheet].x(p[0]), sheets[sheet].y(p[1])];
const closed = d3.line().curve(d3.curveLinearClosed);
const open = d3.line();

defs.append("clipPath").attr("id", "mapView").append("rect").attr("x", 500).attr("y", 1075).attr("width", 1960).attr("height", 547);
defs.append("clipPath").attr("id", "globe").append("circle").attr("cx", 1482).attr("cy", 1506).attr("r", 909);
const oceanTone = defs.append("radialGradient").attr("id", "oceanTone").attr("gradientUnits", "userSpaceOnUse")
  .attr("cx", 1482).attr("cy", 1506).attr("r", 909);
[[0, "#e6ebed"], [.75, "#e8edef"], [1, "#f0f3f4"]].forEach(([o, c]) => oceanTone.append("stop").attr("offset", o).attr("stop-color", c));

// speckled hill shading, only a soft texture under the stress layers
const relief = defs.append("filter").attr("id", "relief").attr("x", 0).attr("y", 0).attr("width", 1).attr("height", 1);
relief.append("feTurbulence").attr("type", "fractalNoise").attr("baseFrequency", ".13 .2").attr("numOctaves", 3).attr("seed", 7).attr("result", "noise");
relief.append("feColorMatrix").attr("in", "noise").attr("type", "matrix")
  .attr("values", "0 0 0 0 .62  0 0 0 0 .62  0 0 0 0 .62  4.5 0 0 0 -2.35").attr("result", "specks");
relief.append("feGaussianBlur").attr("in", "SourceAlpha").attr("stdDeviation", 10).attr("result", "soft");
relief.append("feComposite").attr("in", "specks").attr("in2", "soft").attr("operator", "in");

const map = svg.append("g").attr("class", "map").attr("clip-path", "url(#mapView)");
map.append("circle").attr("cx", 1482).attr("cy", 1506).attr("r", 909).attr("fill", "url(#oceanTone)");
const globe = map.append("g").attr("clip-path", "url(#globe)");

const landOutline = coastParts.flatMap(([sheet, pts]) => pts.map(p => put(sheet, p)));
globe.append("path").attr("d", closed(landOutline)).attr("fill", "#fbfbfb").attr("stroke", "#f0f2f3");
islands.forEach(([sheet, pts]) => globe.append("path").attr("d", closed(pts.map(p => put(sheet, p)))).attr("fill", "#fbfbfb"));
globe.append("path").attr("d", closed(landOutline)).attr("fill", "#000").attr("filter", "url(#relief)").attr("opacity", .08);
globe.append("path").attr("d", closed(rockies.map(p => put("west", p)))).attr("fill", "#000").attr("filter", "url(#relief)").attr("opacity", .35);
lakes.forEach(([sheet, pts]) => globe.append("path").attr("d", closed(pts.map(p => put(sheet, p)))).attr("fill", "#e6ebed"));
terrain.forEach(pts => globe.append("path").attr("d", d3.line().curve(d3.curveCatmullRom)(pts.map(p => put("west", p))))
  .attr("fill", "none").attr("stroke", "#dcdcdc").attr("stroke-width", 1.2));
borders.forEach(([sheet, pts]) => globe.append("path").attr("d", open(pts.map(p => put(sheet, p))))
  .attr("fill", "none").attr("stroke", "#e2e2e2").attr("stroke-width", 1));

stressAreas.forEach(([sheet, level, pts]) => globe.append("path").attr("d", closed(pts.map(p => put(sheet, p))))
  .attr("fill", stressColors[level]).attr("stroke", stressColors[level]).attr("stroke-width", 1.5).attr("stroke-linejoin", "round"));
stressHoles.forEach(([sheet, pts]) => globe.append("path").attr("d", closed(pts.map(p => put(sheet, p)))).attr("fill", "#fbfbfb"));

const labelStyle = {
  region: { size: 12.5, weight: 500, fill: "#8c8c8c", spacing: 1.6 },
  city: { size: 14.5, fill: "#1c1c1c" },
  small: { size: 13, fill: "#555" },
  country: { size: 18, weight: 500, fill: "#111" }
};
mapLabels.forEach(([sheet, t, x, y, kind]) => {
  const [px, py] = put(sheet, [x, y]);
  label(map, t, px, py, { ...labelStyle[kind], anchor: "middle" });
});
oceanLabels.forEach(([t, y]) => {
  const [px, py] = put("atl", [1086, y]);
  label(map, t, px, py, { size: 18, fill: "#333", anchor: "middle", spacing: 4 }).attr("font-style", "italic");
});
const seaScrap = put("atl", [542, 245]);
label(map, "ea", seaScrap[0], seaScrap[1], { size: 12, fill: "#666", anchor: "middle" }).attr("transform", `rotate(62 ${seaScrap[0]} ${seaScrap[1]})`);

const pinPath = r => `M0,${1.5 * r}C${-.35 * r},${.95 * r} ${-r},${.5 * r} ${-r},0A${r},${r} 0 1 1 ${r},0C${r},${.5 * r} ${.35 * r},${.95 * r} 0,${1.5 * r}Z`;
farmPins.forEach(([sheet, x, y, r, hole]) => {
  const [px, py] = put(sheet, [x, y]);
  const k = r / 3 * 1.08;
  const pin = map.append("g").attr("transform", `translate(${px},${py})`);
  pin.append("path").attr("d", pinPath(k)).attr("fill", "#2a3fa6");
  if (hole) pin.append("circle").attr("r", k * .34).attr("fill", hole);
});
</script>
</body>
</html>
